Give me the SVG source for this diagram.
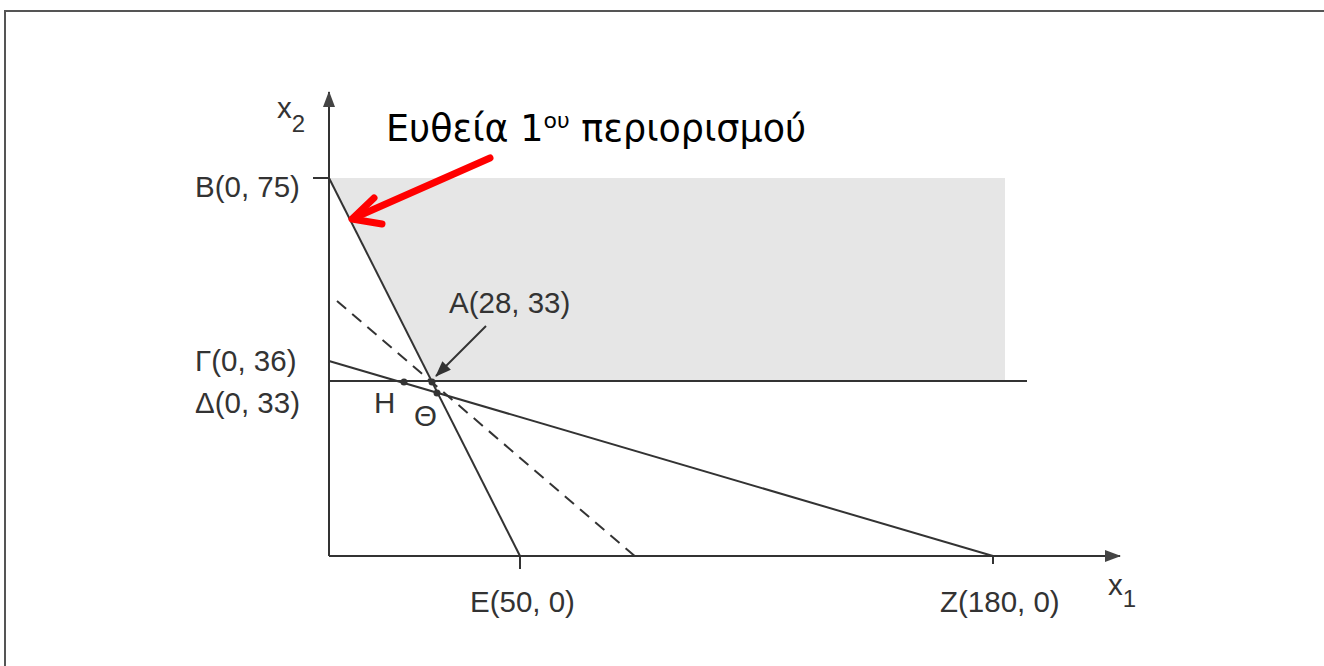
<svg xmlns="http://www.w3.org/2000/svg" width="1324" height="666" viewBox="0 0 1324 666">
<defs>
<style>
.lbl{font-family:"Liberation Sans",Arial,sans-serif;font-size:29.5px;fill:#333}
.ax{stroke:#333;stroke-width:2;fill:none}
.ln{stroke:#333;stroke-width:2;fill:none}
</style>
<marker id="ah" viewBox="0 0 16 12" refX="15" refY="6" markerWidth="16" markerHeight="12" markerUnits="userSpaceOnUse" orient="auto"><path d="M0,0 L16,6 L0,12 z" fill="#333"/></marker>
<marker id="axh" viewBox="0 0 16 12" refX="15" refY="6" markerWidth="16" markerHeight="12" markerUnits="userSpaceOnUse" orient="auto"><path d="M0,0 L16,6 L0,12 z" fill="#444"/></marker>
</defs>
<rect width="1324" height="666" fill="#fff"/>
<path d="M5,666 V11 H1324" fill="none" stroke="#555" stroke-width="2"/>
<g id="region"><polygon points="329,178 1005,178 1005,381 432,381" fill="#e6e6e6"/></g>
<g id="connectors">
<line class="ax" x1="329" y1="556" x2="329" y2="92" marker-end="url(#axh)"/>
<line class="ax" x1="329" y1="556" x2="1120" y2="556" marker-end="url(#axh)"/>
<line class="ax" x1="313" y1="178" x2="329" y2="178"/>
<line class="ax" x1="520" y1="556" x2="520" y2="569"/>
<line class="ax" x1="993" y1="556" x2="993" y2="564"/>
<line class="ln" x1="329" y1="178" x2="520" y2="556"/>
<line class="ln" x1="329" y1="361" x2="993" y2="556"/>
<line class="ln" x1="329" y1="381" x2="1027" y2="381"/>
<line class="ln" x1="337" y1="301" x2="637" y2="558" stroke-dasharray="12,8"/>
<line class="ln" x1="486" y1="326" x2="436" y2="376" stroke-width="1.5" marker-end="url(#ah)"/>
<line x1="490" y1="158" x2="354" y2="218" stroke="#f00" stroke-width="7" stroke-linecap="round"/>
<path d="M374,198 L352,219 L382,224" fill="none" stroke="#f00" stroke-width="7" stroke-linecap="round" stroke-linejoin="round"/>
</g>
<g id="points" fill="#333">
<circle cx="404" cy="382" r="3.5"/>
<circle cx="432" cy="382" r="3.5"/>
<circle cx="437" cy="393" r="3.5"/>
</g>
<g id="labels">
<text class="lbl" x="277" y="118">x<tspan font-size="24" dy="14">2</tspan></text>
<text class="lbl" x="195" y="197">B(0, 75)</text>
<text class="lbl" x="195" y="371">Γ(0, 36)</text>
<text class="lbl" x="195" y="413">Δ(0, 33)</text>
<text class="lbl" x="374" y="413">H</text>
<text class="lbl" x="414" y="426">Θ</text>
<text class="lbl" x="449" y="313">A(28, 33)</text>
<text class="lbl" x="470" y="612">E(50, 0)</text>
<text class="lbl" x="940" y="612">Z(180, 0)</text>
<text class="lbl" x="1108" y="595">x<tspan font-size="24" dy="12">1</tspan></text>
<text x="386" y="141" font-family="'DejaVu Sans',Verdana,sans-serif" font-size="36.5" fill="#000">Ευθεία 1<tspan font-size="22" dy="-13">ου</tspan><tspan dy="13"> περιορισμού</tspan></text>
</g>
</svg>
